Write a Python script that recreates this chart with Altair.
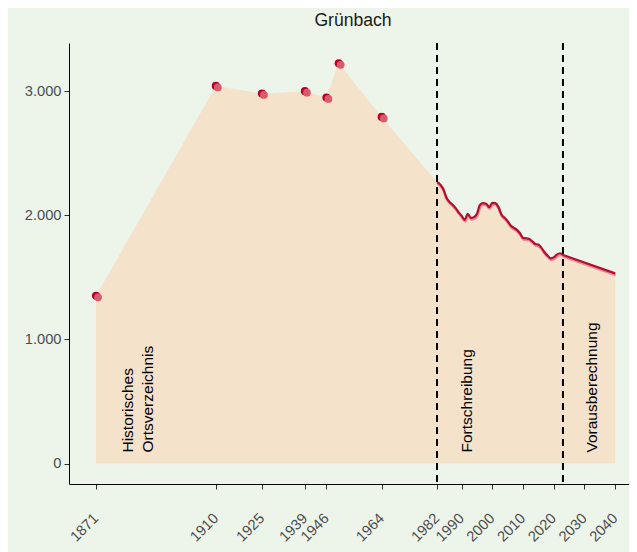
import altair as alt
import pandas as pd

hist_years = [1871, 1910, 1925, 1939, 1946, 1950, 1964]
hist_vals = [1352, 3044, 2983, 3002, 2951, 3226, 2794]

fort_years = list(range(1982, 2024))
fort_vals = [2269, 2250, 2215, 2147, 2110, 2088, 2061, 2026, 1997, 1964,
             2013, 1981, 1986, 2013, 2086, 2099, 2094, 2067, 2102, 2099,
             2067, 2005, 1981, 1953, 1918, 1900, 1883, 1856, 1819, 1816,
             1810, 1792, 1770, 1765, 1738, 1703, 1676, 1654, 1662, 1684,
             1695, 1681]
proj_years = [2023, 2040]
proj_vals = [1681, 1533]

tick_years = [1871, 1910, 1925, 1939, 1946, 1964, 1982, 1990, 2000, 2010, 2020, 2030, 2040]
y_ticks = [0, 1000, 2000, 3000]
phase_breaks = [1982, 2023]
labels = ["Historisches\nOrtsverzeichnis", "Fortschreibung", "Vorausberechnung"]
label_x = [1881.3, 1991.8, 2032.5]
label_y = [0, 0, 0]

hist = pd.DataFrame({"year": hist_years, "value": hist_vals})
fort = pd.DataFrame({"year": fort_years, "value": fort_vals})
proj = pd.DataFrame({"year": proj_years, "value": proj_vals})
area = pd.concat([hist, fort, proj.iloc[1:]], ignore_index=True)
breaks = pd.DataFrame({"year": phase_breaks})
ann = pd.DataFrame({"year": label_x, "value": label_y, "text": labels})

xs = alt.Scale(domain=[1862.2, 2044.5], nice=False, zero=False)
ys = alt.Scale(domain=[-165, 3390], nice=False)

x_axis = alt.Axis(values=tick_years, format="d", labelAngle=-45, labelAlign="right", labelBaseline="middle",
                  labelPadding=27, grid=False, tickSize=5, tickColor="#333333", domainColor="#000000",
                  labelColor="#4d4d4d", labelFontSize=14.7, title=None, labelFont="Liberation Sans",
                  labelFlush=False, labelOverlap=False, labelBound=False)
y_axis = alt.Axis(values=y_ticks, grid=False, tickSize=5, tickColor="#333333", domainColor="#000000",
                  labelColor="#4d4d4d", labelFontSize=14.7, title=None, labelFont="Liberation Sans",
                  labelExpr="replace(format(datum.value, ','), ',', '.')", labelPadding=3)

X = alt.X("year:Q", scale=xs, axis=x_axis)
Y = alt.Y("value:Q", scale=ys, axis=y_axis)

area_layer = alt.Chart(area).mark_area(color="#f5e2cb", opacity=1).encode(
    x=X, y=Y, y2=alt.datum(0))


def line_layers(df, interp):
    shadow = alt.Chart(df).mark_line(color="#e88a99", strokeWidth=2.8, interpolate=interp,
                                     yOffset=1.5, xOffset=0.5).encode(x=X, y=Y)
    main = alt.Chart(df).mark_line(color="#b3102e", strokeWidth=2.2, interpolate=interp).encode(x=X, y=Y)
    return [shadow, main]


lines = line_layers(fort, "monotone") + line_layers(proj, "linear")

pts_dark = alt.Chart(hist).mark_circle(color="#b70028", size=66, opacity=1).encode(x=X, y=Y)
pts_light = alt.Chart(hist).mark_circle(color="#d95a6a", size=60, opacity=1, xOffset=2, yOffset=1.5).encode(x=X, y=Y)

rules = alt.Chart(breaks).mark_rule(color="black", strokeWidth=2, strokeDash=[7, 5]).encode(
    x=alt.X("year:Q", scale=xs))

texts = alt.Chart(ann).mark_text(angle=270, align="left", baseline="middle", fontSize=15.5,
                                 font="Liberation Sans", color="black", lineHeight=20,
                                 lineBreak="\n", dx=11).encode(
    x=alt.X("year:Q", scale=xs), y=alt.Y("value:Q", scale=ys), text="text:N")

chart = alt.layer(area_layer, *lines, pts_dark, pts_light, rules, texts).properties(
    width=560, height=441,
    title=alt.TitleParams("Grünbach", fontSize=17.6, font="Liberation Sans", fontWeight="normal",
                          color="#1a1a1a", anchor="middle", offset=12, dx=4),
    background="#edf5ea",
    padding={"left": 61, "top": 35, "right": 0, "bottom": 68},
    autosize=alt.AutoSizeParams(type="none"),
).configure_view(stroke=None)

chart.save("out.html", embed_options={"renderer": "svg", "actions": False})
